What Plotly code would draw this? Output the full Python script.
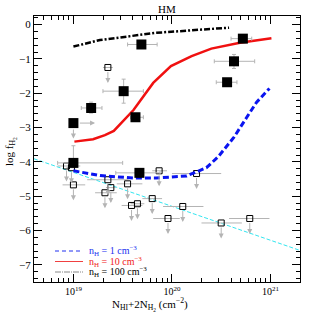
import numpy as np
import plotly.graph_objects as go

# ---------------- data (log10 of column density, log f_H2) ----------------
det_logN = [19.69, 19.51, 19.18, 19.00, 19.00, 19.63, 19.67, 20.72, 20.63, 20.56]
det_f = [-0.58, -1.94, -2.43, -2.87, -4.03, -2.70, -4.32, -0.41, -1.07, -1.68]
det_logN_lo = [19.55, 19.30, 19.08, 19.00, 18.84, 19.58, 19.43, 20.60, 20.43, 20.45]
det_logN_hi = [19.85, 19.71, 19.29, 19.00, 19.50, 19.71, 19.88, 20.81, 20.84, 20.66]
det_f_lo = [0.08, 0.35, 0.15, 0.0, 0.0, 0.08, 0.05, 0.05, 0.21, 0.05]
det_f_hi = [0.08, 0.35, 0.17, 0.0, 0.50, 0.08, 0.05, 0.05, 0.20, 0.05]
det_down_arrow = [0, 0, 0, 1, 0, 0, 0, 0, 0, 0]
det_right_arrow = [0, 0, 0, 1, 0, 0, 0, 0, 0, 0]

lim_logN = [19.35, 18.93, 18.98, 19.00, 19.35, 19.38, 19.32, 19.55, 19.59, 19.65,
            19.80, 19.87, 20.25, 20.11, 19.96, 20.50, 20.79]
lim_f = [-1.25, -4.12, -4.17, -4.67, -4.52, -4.75, -4.90, -4.64, -5.27, -5.22,
         -5.07, -4.26, -4.34, -5.30, -5.65, -5.78, -5.65]
lim_logN_lo = [19.30, 18.84, 18.93, 18.89, 19.14, 19.33, 19.22, 19.44, 19.49, 19.58,
               19.70, 19.80, 20.00, 19.91, 19.81, 20.30, 20.58]
lim_logN_hi = [19.40, 19.07, 19.03, 19.12, 19.56, 19.43, 19.44, 19.70, 19.70, 19.72,
               19.90, 19.95, 20.50, 20.32, 20.08, 20.71, 20.99]

n1_logN = [19.0, 19.27, 19.61, 19.84, 20.15, 20.35, 20.47, 20.63, 20.76, 20.86, 20.99]
n1_f = [-4.26, -4.40, -4.47, -4.47, -4.41, -4.17, -3.85, -3.28, -2.70, -2.26, -1.86]

n10_logN = [19.01, 19.20, 19.32, 19.41, 19.61, 19.81, 19.99, 20.20, 20.40, 20.69, 21.01]
n10_f = [-3.41, -3.34, -3.22, -3.10, -2.49, -1.70, -1.21, -0.92, -0.70, -0.53, -0.40]

n100_logN = [19.00, 19.27, 19.84, 20.58]
n100_f = [-0.64, -0.45, -0.24, -0.09]

fit_logN = [18.60, 21.30]
fit_f = [-3.91, -6.58]

legend_labels = ["n<sub>H</sub> = 1 cm<sup>−3</sup>",
                 "n<sub>H</sub> = 10 cm<sup>−3</sup>",
                 "n<sub>H</sub> = 100 cm<sup>−3</sup>"]

ytick_vals = [0, -1, -2, -3, -4, -5, -6, -7]
xtick_exps = [19, 20, 21]

# ---------------- figure ----------------
FONT = "Liberation Serif, Times New Roman, serif"
GRAY = "#b4b4b4"
ARROW = 0.45

def lin(a):
    return [10.0 ** v for v in a]

fig = go.Figure()

# cyan fit line
fig.add_trace(go.Scatter(x=lin(fit_logN), y=fit_f, mode="lines",
                         line=dict(color="#33e6f0", width=1, dash="4px,2px"),
                         showlegend=False))

# upper limits (open squares)
lx = np.array(lin(lim_logN))
fig.add_trace(go.Scatter(
    x=lx, y=lim_f, mode="markers",
    marker=dict(symbol="square-open", size=6, color="black", line=dict(width=1)),
    error_x=dict(type="data", symmetric=False,
                 array=np.array(lin(lim_logN_hi)) - lx,
                 arrayminus=lx - np.array(lin(lim_logN_lo)),
                 color=GRAY, thickness=1, width=0),
    showlegend=False))

# models
fig.add_trace(go.Scatter(x=lin(n1_logN), y=n1_f, mode="lines",
                         line=dict(color="#0a14f0", width=3, dash="6px,3px"),
                         showlegend=False))
fig.add_trace(go.Scatter(x=lin(n10_logN), y=n10_f, mode="lines",
                         line=dict(color="#f01010", width=2.5),
                         showlegend=False))
fig.add_trace(go.Scatter(x=lin(n100_logN), y=n100_f, mode="lines",
                         line=dict(color="black", width=2.5, dash="6px,2px,2px,2px"),
                         showlegend=False))

# detections (filled squares)
dx = np.array(lin(det_logN))
fig.add_trace(go.Scatter(
    x=dx, y=det_f, mode="markers",
    marker=dict(symbol="square", size=10, color="black"),
    error_x=dict(type="data", symmetric=False,
                 array=np.array(lin(det_logN_hi)) - dx,
                 arrayminus=dx - np.array(lin(det_logN_lo)),
                 color=GRAY, thickness=1, width=2),
    error_y=dict(type="data", symmetric=False, array=det_f_hi, arrayminus=det_f_lo,
                 color=GRAY, thickness=1, width=2),
    showlegend=False))

annotations = []
for lN, f in zip(lim_logN, lim_f):
    annotations.append(dict(x=lN, y=f - ARROW, ax=lN, ay=f, xref="x", yref="y",
                            axref="x", ayref="y", showarrow=True, arrowhead=2,
                            arrowsize=1, arrowwidth=1, arrowcolor=GRAY,
                            startstandoff=3, text=""))
for lN, f, d, r in zip(det_logN, det_f, det_down_arrow, det_right_arrow):
    if d:
        annotations.append(dict(x=lN, y=f - ARROW, ax=lN, ay=f, xref="x", yref="y",
                                axref="x", ayref="y", showarrow=True, arrowhead=2,
                                arrowsize=1, arrowwidth=1, arrowcolor=GRAY,
                                startstandoff=5, text=""))
    if r:
        annotations.append(dict(x=lN + 0.22, y=f, ax=lN, ay=f, xref="x", yref="y",
                                axref="x", ayref="y", showarrow=True, arrowhead=2,
                                arrowsize=1, arrowwidth=1, arrowcolor=GRAY,
                                startstandoff=5, text=""))

# plot area in window pixels: x 34..300, y 16..282
def px(xp):
    return (xp - 34) / 266.0

def py(yp):
    return (282 - yp) / 266.0

def txt(text, x, y, size=11, color="black", angle=0, xanchor="center"):
    return dict(text=text, x=px(x), y=py(y), xref="paper", yref="paper",
                xanchor=xanchor, yanchor="middle", textangle=angle,
                showarrow=False, font=dict(family=FONT, size=size, color=color))

annotations.append(txt("HM", 167, 9, size=11))
annotations.append(txt("N<sub>HI</sub>+2N<sub>H<sub>2</sub></sub> (cm<sup>−2</sup>)",
                       150, 304, size=11))
annotations.append(txt("log f<sub>H<sub>2</sub></sub>", 10, 152, size=11, angle=-90))

# legend (manual)
leg_colors = ["#2030f0", "#f02020", "black"]
leg_dash = ["4px,3px", "solid", "6px,1px,1px,1px"]
leg_color_line = ["#2030f0", "#f04040", "#888888"]
leg_rows = [251, 261.5, 272]
shapes = []
for lab, c, cl, ds, r in zip(legend_labels, leg_colors, leg_color_line, leg_dash, leg_rows):
    shapes.append(dict(type="line", xref="paper", yref="paper", x0=px(55), x1=px(83),
                       y0=py(r), y1=py(r), line=dict(color=cl, width=1, dash=ds)))
    annotations.append(txt(lab, 87, r, size=10, color=c, xanchor="left"))

minor_x = [m * 10.0 ** e for e in range(18, 22) for m in range(2, 10)]

fig.update_layout(
    width=316, height=316,
    margin=dict(l=34, r=16, t=16, b=34),
    paper_bgcolor="white", plot_bgcolor="white",
    font=dict(family=FONT, size=10, color="black"),
    annotations=annotations, shapes=shapes,
    showlegend=False,
)
fig.update_xaxes(type="log", range=[18.6, 21.3],
                 tickvals=[10.0 ** e for e in xtick_exps],
                 ticktext=["10<sup>%d</sup>" % e for e in xtick_exps],
                 ticks="inside", ticklen=8, tickwidth=1, tickcolor="black",
                 minor=dict(tickvals=minor_x, ticks="inside", ticklen=4, tickcolor="black"),
                 showline=True, linecolor="black", linewidth=1, mirror="allticks",
                 showgrid=False, zeroline=False, tickfont=dict(size=10))
fig.update_yaxes(range=[-7.5, 0.25], tickvals=ytick_vals,
                 ticks="inside", ticklen=8, tickwidth=1, tickcolor="black",
                 minor=dict(dtick=0.2, ticks="inside", ticklen=4, tickcolor="black"),
                 showline=True, linecolor="black", linewidth=1, mirror="allticks",
                 showgrid=False, zeroline=False, tickfont=dict(size=11))

fig.write_html("out.html", config={"displayModeBar": False},
               post_script="document.body.style.margin='0px';document.body.style.padding='0px';")
